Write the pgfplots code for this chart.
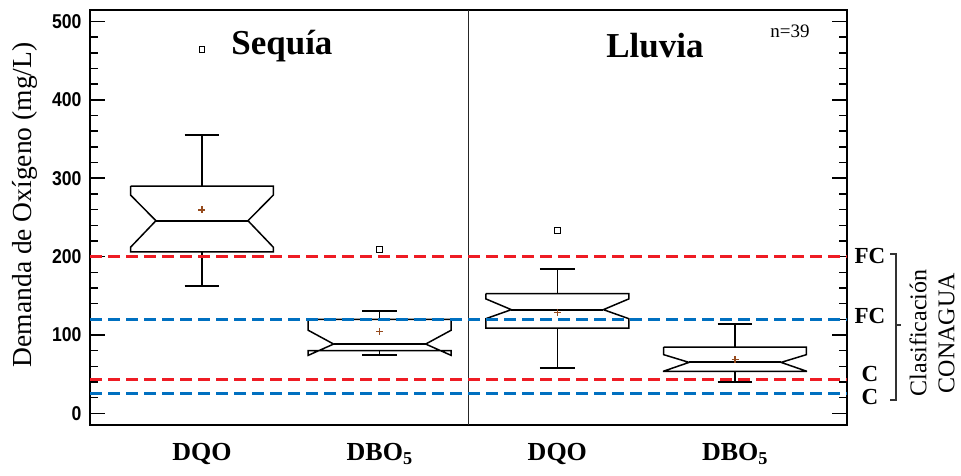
\documentclass[border=0pt]{standalone}
\usepackage{pgfplots}
\pgfplotsset{compat=1.18}
\usepackage{fontspec}
\setmainfont{Liberation Serif}
\setsansfont{Liberation Sans}
\newfontfamily\ticksf{Liberation Sans}[FakeStretch=0.88]
\definecolor{cred}{RGB}{238,28,36}
\definecolor{cblue}{RGB}{0,112,192}
\definecolor{cmean}{RGB}{150,75,30}
\begin{document}
\begin{tikzpicture}[x=1pt,y=1pt]
\begin{axis}[
  at={(90pt,50pt)}, anchor=south west,
  scale only axis, width=757pt, height=415pt,
  xmin=0.37, xmax=4.63, ymin=-14.9, ymax=514.7,
  clip=false,
  axis line style={line width=1.5pt},
  xtick={1,2,3,4},
  xticklabels={DQO, DBO\textsubscript{5}, DQO, DBO\textsubscript{5}},
  xticklabel style={font=\bfseries\fontsize{26}{26}\selectfont, anchor=north, yshift=-15pt},
  x tick style={draw=none},
  ytick={0,100,200,300,400,500},
  minor y tick num=4,
  ytick pos=both,
  yticklabel pos=left,
  tick align=inside,
  major tick length=15pt, minor tick length=8pt,
  y tick style={line width=1.5pt, black},
  yticklabel style={font=\ticksf\bfseries\fontsize{20}{20}\selectfont, xshift=-5pt},
  /pgf/number format/assume math mode=true,
  box/.style={black, line width=1.5pt, line join=miter, mark=none},
  med/.style={black, line width=2.2pt, mark=none},
  wh/.style={black, line width=1.5pt, mark=none},
  cap/.style={black, line width=2.2pt, mark=none},
]
% middle separator
\addplot[black!85, line width=1.4pt, mark=none] coordinates {(2.5,-14.9) (2.5,514.7)};

% ---- Box 1: Sequia DQO
\addplot[box] coordinates {(0.598,290) (1.402,290) (1.402,278.6) (1.259,245.8) (1.402,211.9) (1.402,205.9) (0.598,205.9) (0.598,211.9) (0.741,245.8) (0.598,278.6) (0.598,290)};
\addplot[med] coordinates {(0.741,245.8) (1.259,245.8)};
\addplot[wh] coordinates {(1,290) (1,354.8)};
\addplot[cap] coordinates {(0.902,354.8) (1.098,354.8)};
\addplot[wh] coordinates {(1,205.9) (1,162.9)};
\addplot[cap] coordinates {(0.902,162.9) (1.098,162.9)};

% ---- Box 2: Sequia DBO5
\addplot[box] coordinates {(1.598,120) (2.402,120) (2.402,106) (2.259,88.4) (2.402,74) (2.402,80) (1.598,80) (1.598,74) (1.741,88.4) (1.598,106) (1.598,120)};
\addplot[med] coordinates {(1.741,88.4) (2.259,88.4)};
\addplot[wh] coordinates {(2,120) (2,130.5)};
\addplot[cap] coordinates {(1.902,130.5) (2.098,130.5)};
\addplot[wh] coordinates {(2,80) (2,74)};
\addplot[cap] coordinates {(1.902,74) (2.098,74)};

% ---- Box 3: Lluvia DQO
\addplot[box] coordinates {(2.598,152.7) (3.402,152.7) (3.402,146) (3.259,132.3) (3.402,120.8) (3.402,108.8) (2.598,108.8) (2.598,120.8) (2.741,132.3) (2.598,146) (2.598,152.7)};
\addplot[med] coordinates {(2.741,132.3) (3.259,132.3)};
\addplot[wh] coordinates {(3,152.7) (3,183.7)};
\addplot[cap] coordinates {(2.902,183.7) (3.098,183.7)};
\addplot[wh] coordinates {(3,108.8) (3,57.8)};
\addplot[cap] coordinates {(2.902,57.8) (3.098,57.8)};

% ---- Box 4: Lluvia DBO5
\addplot[box] coordinates {(3.598,84.6) (4.402,84.6) (4.402,74.9) (4.259,65) (4.402,53.8) (4.402,53.6) (3.598,53.6) (3.598,53.8) (3.741,65) (3.598,74.9) (3.598,84.6)};
\addplot[med] coordinates {(3.741,65) (4.259,65)};
\addplot[wh] coordinates {(4,84.6) (4,113.5)};
\addplot[cap] coordinates {(3.902,113.5) (4.098,113.5)};
\addplot[wh] coordinates {(4,53.6) (4,40.4)};
\addplot[cap] coordinates {(3.902,40.4) (4.098,40.4)};

% outliers and means
\addplot[only marks, mark=square, mark size=2.8pt, black, mark options={line width=1.1pt}] coordinates {(1,464.6) (2,209) (3,233)};
\addplot[only marks, mark=+, mark size=3.5pt, cmean, mark options={line width=1.4pt}] coordinates {(1,259.5) (2,104.6) (3,129) (4,68.5)};

% CONAGUA limits
\addplot[cred, line width=2.6pt, dash pattern=on 12pt off 6pt, mark=none] coordinates {(0.37,200) (4.63,200)};
\addplot[cblue, line width=2.6pt, dash pattern=on 12pt off 6pt, mark=none] coordinates {(0.37,120) (4.63,120)};
\addplot[cred, line width=2.6pt, dash pattern=on 12pt off 6pt, mark=none] coordinates {(0.37,43) (4.63,43)};
\addplot[cblue, line width=2.6pt, dash pattern=on 12pt off 6pt, mark=none] coordinates {(0.37,25) (4.63,25)};

% texts
\node[font=\bfseries\fontsize{35}{35}\selectfont, anchor=base] at (axis cs:1.45,457.3) {Sequía};
\node[font=\bfseries\fontsize{35}{35}\selectfont, anchor=base] at (axis cs:3.549,453.5) {Lluvia};
\node[font=\fontsize{19}{19}\selectfont, anchor=base] at (axis cs:4.309,479) {n=39};
\node[font=\fontsize{27.5}{27.5}\selectfont, rotate=90] at (axis cs:0.004,266) {Demanda de Oxígeno (mg/L)};

\node[font=\bfseries\fontsize{23}{23}\selectfont] at (axis cs:4.759,201) {FC};
\node[font=\bfseries\fontsize{23}{23}\selectfont] at (axis cs:4.759,124) {FC};
\node[font=\bfseries\fontsize{23}{23}\selectfont] at (axis cs:4.759,50) {C};
\node[font=\bfseries\fontsize{23}{23}\selectfont] at (axis cs:4.759,21) {C};
\draw[black!80, line width=1.2pt] (axis cs:4.872,203.4) -- (axis cs:4.906,203.4) -- (axis cs:4.906,16.9) -- (axis cs:4.872,16.9);
\draw[black!80, line width=1.2pt] (axis cs:4.906,112.8) -- (axis cs:4.934,112.8);
\node[font=\fontsize{24}{28}\selectfont, rotate=90, align=center] at (axis cs:5.108,102.5) {Clasificación\\CONAGUA};
\end{axis}
\pgfresetboundingbox
\path[use as bounding box] (0,0) rectangle (961,475);
\end{tikzpicture}
\end{document}
